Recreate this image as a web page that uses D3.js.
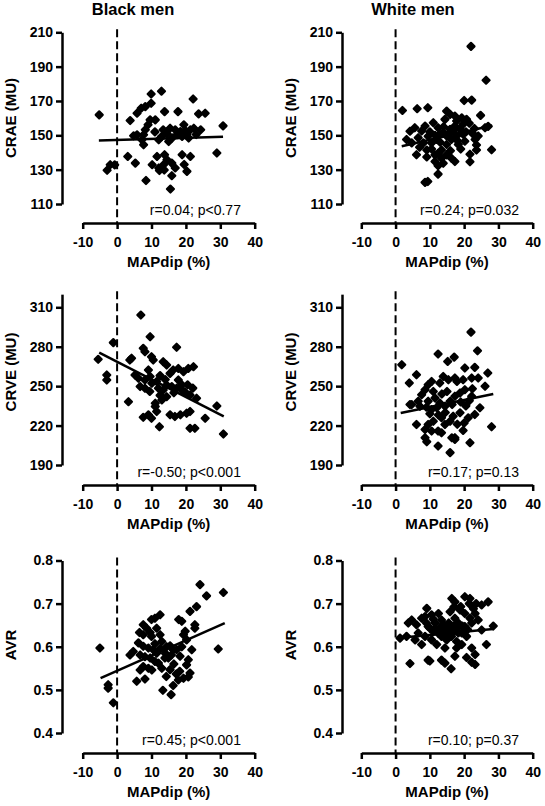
<!DOCTYPE html>
<html><head><meta charset="utf-8">
<script src="https://cdn.jsdelivr.net/npm/d3@7"></script>
<style>
body{margin:0;background:#fff;}
svg{display:block;font-family:"Liberation Sans",Arial,sans-serif;}
</style></head><body>
<svg id="chart" width="545" height="806"></svg>
<script>
// ---------- DATA ----------
const groups = ["Black men", "White men"];
const xLabel = "MAPdip (%)";
const xTicks = [-10, 0, 10, 20, 30, 40];
const measureLabels = ["CRAE (MU)", "CRVE (MU)", "AVR"];
const craeTicks = [110, 130, 150, 170, 190, 210];
const crveTicks = [190, 220, 250, 280, 310];
const avrTicks = [0.4, 0.5, 0.6, 0.7, 0.8];

const blackCRAE = [[-5.2,161.9],[-2.9,129.6],[-2.0,132.9],[-0.7,132.8],[3.1,137.7],[3.8,158.6],[5.3,133.8],[4.8,149.7],[5.8,162.9],[7.0,165.8],[8.2,166.7],[9.9,168.7],[9.9,174.1],[12.9,175.7],[9.6,159],[9.0,156.1],[8.2,153.2],[7.7,150.3],[7.2,147.4],[7.7,144.5],[5.8,150.3],[11.1,159],[13.8,163.8],[17.7,163.8],[22.1,171.2],[23.7,162.5],[25.6,162.9],[30.8,155.5],[29.0,139.7],[8.4,123.7],[15.5,118.7],[15.9,126.5],[20.3,129],[18.9,138.7],[21.3,137.7],[11.6,137.7],[10.2,132.9],[12.1,131],[13.5,132.9],[14.5,135.8],[15.9,133.8],[16.9,131],[13.8,138.7],[12.3,129.5],[13.7,129.8],[13.4,153.2],[15.4,154.1],[16.9,153.2],[18.4,152.2],[19.4,156.1],[20.3,150.3],[21.3,153.2],[22.3,154.1],[24.3,153.2],[18.9,149.4],[20.8,148.4],[17.4,150.3],[13.0,149.4],[12.1,147.4],[15.0,146.4],[19.5,133],[14.5,151],[19.8,152.8],[23.0,150.5],[11.0,152],[16.0,148.5]];
const whiteCRAE = [[22.0,201.8],[26.4,182.1],[20.0,170.3],[22.2,170.5],[2.0,164.5],[6.3,165.5],[9.4,166.1],[24.8,161.6],[28.0,141.6],[9.4,123.1],[8.6,122.6],[12.4,127.4],[4.2,152.4],[6.1,138.7],[9.1,141.4],[9.1,137.4],[11.5,134.7],[12.4,132.3],[13.9,133.7],[14.9,138.6],[16.3,136.6],[17.3,134.7],[13.4,141.4],[10.5,145.6],[12.0,147.6],[9.5,149.5],[7.6,152.5],[5.6,154.4],[6.6,148.6],[8.6,155.4],[11.0,157.3],[12.4,154.4],[13.9,151.6],[14.9,149.6],[15.9,153.5],[17.3,155.4],[18.8,153.5],[19.7,150.6],[17.8,149.6],[16.3,147.6],[14.9,144.7],[18.3,144.7],[20.2,146.6],[23.2,147.6],[24.1,149.6],[26.1,154.4],[14.9,164.1],[15.9,162.2],[17.3,161.2],[19.3,160.2],[20.7,159.3],[17.8,158.3],[14.4,159.3],[19.7,156.4],[12.9,150.6],[8.1,145.6],[4.7,145.6],[3.2,147.6],[21.7,139],[21.7,134.6],[23.6,144.4],[23.6,141.4],[27.0,155.2],[12.4,139.5],[13.4,136.6],[11.5,138.6],[10.0,152],[11.5,150],[13.0,146],[15.5,151],[16.8,152.5],[18.0,147],[19.0,142],[20.5,152],[22.5,151],[16.0,141],[14.0,155],[10.5,142],[7.0,143],[21.5,157],[23.0,154]];
const blackCRVE = [[6.9,304.1],[9.6,287.6],[-1.1,283.1],[17.3,279.6],[-5.5,270.4],[-3.0,258.5],[-3.0,254.7],[3.3,238.2],[30.9,213.6],[29.0,234.9],[25.6,225.5],[12.3,219.1],[21.2,217.9],[22.6,217.9],[7.6,278.8],[8.1,276.2],[10.0,272.4],[10.5,269.9],[4.2,271.2],[3.7,269.9],[13.4,268.6],[14.4,266.1],[16.3,262.3],[17.8,263.5],[20.7,263.5],[22.2,264.8],[19.3,261],[15.4,259.7],[9.1,262.3],[9.6,257.3],[5.2,258.5],[6.2,256],[8.1,254.7],[6.7,249.7],[8.1,248.4],[10.1,252.2],[11.5,253.5],[12.0,248.4],[13.4,247.1],[14.4,250.9],[15.9,249.7],[17.3,248.4],[18.8,247.1],[19.7,245.8],[21.2,243.3],[23.1,240.8],[14.4,242],[13.0,239.5],[11.1,237],[11.1,234.5],[11.5,230.7],[9.1,228.2],[7.6,226.3],[10.0,225.5],[15.4,228.2],[16.8,226.9],[18.4,228.2],[20.2,229.4],[21.2,230.7],[17.8,254.7],[18.8,251],[12.5,258],[14.0,255],[16.5,245],[12.5,243],[9.5,246],[20.5,251],[22.0,248.5]];
const whiteCRVE = [[22.0,291.1],[1.8,266.3],[12.4,274.4],[23.9,276.9],[17.1,272.1],[15.2,268.8],[6.1,258.7],[4.0,252.4],[26.9,260],[28.0,219.1],[9.1,207.7],[15.9,199.4],[21.7,207],[12.4,204.4],[6.1,220.8],[17.3,210.8],[19.7,216.3],[4.2,236],[20.2,263.8],[23.1,264.3],[22.2,256.2],[19.7,254.9],[17.3,256.2],[15.4,254.9],[13.9,257.4],[12.9,252.4],[10.5,253.6],[9.5,251.1],[8.6,247.3],[7.6,243.5],[6.6,238.5],[4.7,236],[7.1,234.7],[9.5,238.5],[11.5,241],[12.9,237.2],[14.4,234.7],[12.0,233.5],[10.5,232.2],[15.9,238.5],[17.3,242.3],[18.8,244.8],[20.2,247.3],[22.2,242.3],[24.6,233.5],[23.1,228.4],[21.2,225.9],[18.8,229.7],[16.8,227.1],[15.9,223.3],[14.4,220.8],[13.4,225.9],[11.0,223.3],[9.5,220.8],[8.6,217],[10.5,215.8],[12.4,215.8],[13.4,214.5],[8.6,210.7],[17.3,209.5],[16.4,210.7],[26.1,249.9],[24.1,256.2],[17.9,253.6],[22.4,248],[11.0,246],[13.5,244],[15.0,246],[16.5,236],[19.0,238],[20.5,235],[21.5,239],[12.5,228],[14.5,230],[10.0,229],[9.0,234],[18.0,221],[20.0,222]];
const blackAVR = [[24.1,0.744],[30.9,0.726],[26.0,0.718],[-5.0,0.597],[29.4,0.595],[-2.6,0.512],[-2.6,0.504],[-1.1,0.470],[23.1,0.693],[21.2,0.682],[22.6,0.651],[18.8,0.659],[17.9,0.663],[12.5,0.674],[11.0,0.666],[10.0,0.663],[7.6,0.651],[8.6,0.643],[6.5,0.633],[9.6,0.633],[3.75,0.581],[5.7,0.520],[8.1,0.525],[13.3,0.499],[15.7,0.489],[16.3,0.510],[14.3,0.531],[17.2,0.537],[18.2,0.543],[20.7,0.530],[21.2,0.539],[20.2,0.558],[20.7,0.570],[21.7,0.593],[20.2,0.616],[19.3,0.628],[19.8,0.636],[13.0,0.612],[14.4,0.600],[15.4,0.602],[16.3,0.593],[13.9,0.574],[14.9,0.574],[15.8,0.581],[6.2,0.609],[7.6,0.601],[9.1,0.597],[10.5,0.593],[6.7,0.581],[8.1,0.577],[9.6,0.574],[7.6,0.554],[9.1,0.550],[10.1,0.546],[6.7,0.546],[11.0,0.566],[12.0,0.562],[13.0,0.550],[17.3,0.593],[18.3,0.578],[18.8,0.600],[11.5,0.585],[10.0,0.624],[7.6,0.628],[11.5,0.643],[4.7,0.589],[17.8,0.523],[19.3,0.527],[15.4,0.547],[22.6,0.643],[12.5,0.596],[14.0,0.585],[11.0,0.607],[16.5,0.560],[12.5,0.628]];
const whiteAVR = [[1.3,0.620],[4.2,0.561],[9.1,0.689],[9.5,0.569],[10.0,0.567],[13.4,0.569],[14.4,0.562],[16.2,0.549],[16.4,0.712],[17.3,0.704],[20.2,0.716],[21.7,0.712],[27.0,0.704],[25.1,0.697],[22.7,0.688],[23.2,0.677],[28.5,0.648],[26.5,0.605],[22.2,0.597],[23.2,0.582],[22.2,0.564],[23.2,0.559],[20.7,0.575],[17.8,0.597],[3.7,0.655],[4.7,0.662],[6.1,0.651],[7.6,0.666],[8.6,0.670],[10.5,0.674],[12.5,0.677],[9.5,0.647],[11.5,0.655],[13.4,0.662],[14.9,0.647],[16.3,0.639],[18.3,0.655],[19.3,0.632],[20.7,0.624],[6.6,0.632],[8.6,0.624],[10.5,0.616],[12.0,0.605],[13.4,0.624],[14.9,0.616],[16.3,0.624],[17.8,0.612],[19.3,0.605],[5.7,0.616],[7.6,0.605],[14.4,0.597],[18.3,0.632],[20.2,0.647],[22.2,0.655],[24.1,0.662],[25.1,0.639],[18.8,0.685],[20.2,0.677],[17.3,0.666],[15.9,0.681],[21.7,0.666],[11.0,0.635],[12.5,0.631],[14.9,0.631],[3.2,0.624],[17.3,0.578],[10.0,0.643],[11.5,0.642],[13.0,0.645],[14.0,0.652],[15.5,0.655],[16.8,0.648],[18.0,0.643],[19.5,0.648],[21.0,0.640],[15.0,0.638],[16.5,0.632],[13.5,0.637],[9.0,0.655],[11.0,0.664],[17.0,0.692],[19.0,0.693],[21.5,0.700],[23.5,0.700]];

// fitted regression lines: [x0, y0, x1, y1]
const fitBlackCRAE = [-5.3, 147.0, 30.8, 149.2];
const fitWhiteCRAE = [1.8, 143.6, 28.2, 155.7];
const fitBlackCRVE = [-5.2, 275.5, 31.0, 227.0];
const fitWhiteCRVE = [1.5, 229.5, 28.5, 244.0];
const fitBlackAVR = [-4.8, 0.527, 31.3, 0.655];
const fitWhiteAVR = [1.3, 0.621, 28.5, 0.641];

const statBlack = ["r=0.04; p<0.77", "r=-0.50; p<0.001", "r=0.45; p<0.001"];
const statWhite = ["r=0.24; p=0.032", "r=0.17; p=0.13", "r=0.10; p=0.37"];

// ---------- LAYOUT ----------
const svg = d3.select("#chart");
const colAxisX = [62, 342];
const colXRange = [[82.7, 254.7], [361.3, 532.7]];
const rows = [
  {ticks: craeTicks, domain: [110, 210], top: 32.3, bottom: 204, axisY: 223, labelY: 118, fmt: d => String(d)},
  {ticks: crveTicks, domain: [190, 320], top: 307.3 - 10 * 157.7 / 120, bottom: 465, axisY: 485, labelY: 372, fmt: d => String(d)},
  {ticks: avrTicks, domain: [0.4, 0.8], top: 560.5, bottom: 733, axisY: 753, labelY: 645, fmt: d => d.toFixed(1)}
];
const pointsByPanel = [[blackCRAE, whiteCRAE], [blackCRVE, whiteCRVE], [blackAVR, whiteAVR]];
const fitsByPanel = [[fitBlackCRAE, fitWhiteCRAE], [fitBlackCRVE, fitWhiteCRVE], [fitBlackAVR, fitWhiteAVR]];
const statsByPanel = [[statBlack[0], statWhite[0]], [statBlack[1], statWhite[1]], [statBlack[2], statWhite[2]]];

const diamond = "M0,-3.5L3.5,0L0,3.5L-3.5,0Z";

groups.forEach((g, c) => {
  svg.append("text")
    .attr("x", colAxisX[c] + 71).attr("y", 15)
    .attr("text-anchor", "middle")
    .attr("font-weight", "bold").attr("font-size", 16.5)
    .text(g);
});

rows.forEach((r, ri) => {
  [0, 1].forEach(c => {
    const x = d3.scaleLinear().domain([-10, 40]).range(colXRange[c]);
    const y = d3.scaleLinear().domain(r.domain).range([r.bottom, r.top]);
    const gp = svg.append("g");

    const ya = gp.append("g").attr("transform", `translate(${colAxisX[c]},0)`)
      .call(d3.axisLeft(y).tickValues(r.ticks).tickSize(6).tickSizeOuter(0).tickPadding(3).tickFormat(r.fmt));
    const xa = gp.append("g").attr("transform", `translate(0,${r.axisY})`)
      .call(d3.axisBottom(x).tickValues(xTicks).tickSize(6).tickSizeOuter(0).tickPadding(8).tickFormat(d => String(d)));
    [ya, xa].forEach(a => {
      a.select(".domain").attr("stroke", "#000").attr("stroke-width", 2.5);
      a.selectAll(".tick line").attr("stroke", "#000").attr("stroke-width", 2.5);
      a.selectAll(".tick text").attr("fill", "#000").attr("font-size", 14).attr("font-weight", "bold")
        .attr("font-family", "'Liberation Sans',Arial,sans-serif");
    });

    gp.append("line")
      .attr("x1", x(0)).attr("x2", x(0))
      .attr("y1", r.top - 3).attr("y2", r.axisY)
      .attr("stroke", "#000").attr("stroke-width", 2).attr("stroke-dasharray", "8,4");

    gp.append("g").selectAll("path").data(pointsByPanel[ri][c]).join("path")
      .attr("d", diamond)
      .attr("transform", d => `translate(${x(d[0])},${y(d[1])})`)
      .attr("fill", "#000").attr("stroke", "#000").attr("stroke-width", 2.2)
      .attr("stroke-linejoin", "round");

    const f = fitsByPanel[ri][c];
    gp.append("line")
      .attr("x1", x(f[0])).attr("y1", y(f[1]))
      .attr("x2", x(f[2])).attr("y2", y(f[3]))
      .attr("stroke", "#000").attr("stroke-width", 2.5);

    gp.append("text")
      .attr("x", x(36)).attr("y", r.axisY - 8)
      .attr("text-anchor", "end").attr("font-size", 14)
      .text(statsByPanel[ri][c]);

    gp.append("text")
      .attr("transform", `translate(${colAxisX[c] - 46},${r.labelY}) rotate(-90)`)
      .attr("text-anchor", "middle").attr("font-weight", "bold").attr("font-size", 15)
      .text(measureLabels[ri]);

    gp.append("text")
      .attr("x", (colXRange[c][0] + colXRange[c][1]) / 2).attr("y", r.axisY + 44)
      .attr("text-anchor", "middle").attr("font-weight", "bold").attr("font-size", 15)
      .text(xLabel);
  });
});
</script>
</body></html>
